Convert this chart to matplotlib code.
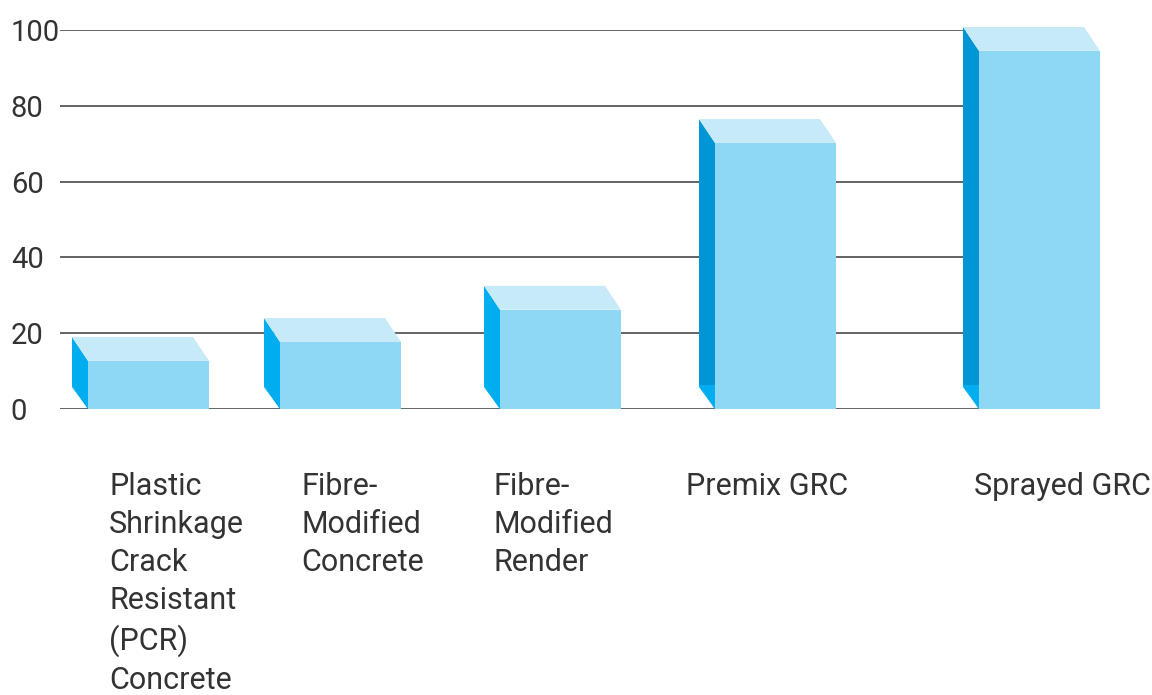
import matplotlib.pyplot as plt
from matplotlib.patches import Polygon, Rectangle
from matplotlib.transforms import blended_transform_factory

# data (values read at the back/top edge of each block)
categories = ["Plastic\nShrinkage\nCrack\nResistant\n(PCR)\nConcrete",
              "Fibre-\nModified\nConcrete",
              "Fibre-\nModified\nRender",
              "Premix GRC",
              "Sprayed GRC"]
values = [19, 24, 32.5, 76.5, 100.8]
yticks = [0, 20, 40, 60, 80, 100]

# layout (pixel-like x units), not data
bar_left = [88, 280, 500, 715, 979]
label_left = [109, 301, 493, 686, 974]
bar_w = 121
dx = 16           # depth offset in x
dy = 6.3          # depth offset in value units

front_col = '#8ed8f5'
top_col = '#c7eaf9'
side_light = '#00aeef'
side_dark = '#0096d6'
text_col = '#333333'

plt.rcParams['font.family'] = ['Roboto', 'DejaVu Sans']

fig = plt.figure(figsize=(11.52, 6.95), dpi=100)
W, H = 1152, 695
ax = fig.add_axes([60 / W, (H - 409) / H, (1082 - 60) / W, (409 - 30) / H])
ax.set_xlim(60, 1082)
ax.set_ylim(0, 100)

for s in ax.spines.values():
    s.set_visible(False)
ax.set_xticks([])
ax.set_yticks(yticks)
ax.set_yticklabels([str(t) for t in yticks], fontsize=21, color=text_col,
                   ha='left')
ax.tick_params(axis='y', length=0, pad=35.5)
ax.grid(axis='y', color='#3a3a3a', linewidth=1.1)
ax.set_axisbelow(True)

for x0, v in zip(bar_left, values):
    front_h = v - dy
    # side face
    side_c = side_dark if v > 50 else side_light
    ax.add_patch(Polygon([(x0 - dx, dy), (x0 - dx, v), (x0, front_h), (x0, 0)],
                         closed=True, facecolor=side_c, edgecolor='none',
                         clip_on=False, zorder=3))
    # lower triangle of side face stays bright
    ax.add_patch(Polygon([(x0 - dx, dy - 0.5), (x0 - dx, dy), (x0, dy), (x0, 0)],
                         closed=True, facecolor=side_light, edgecolor='none',
                         clip_on=False, zorder=3))
    # top face
    ax.add_patch(Polygon([(x0 - dx, v), (x0 - dx + bar_w, v),
                          (x0 + bar_w, front_h), (x0, front_h)],
                         closed=True, facecolor=top_col, edgecolor='none',
                         clip_on=False, zorder=3))
    # front face
    ax.add_patch(Rectangle((x0, 0), bar_w, front_h, facecolor=front_col,
                           edgecolor='none', clip_on=False, zorder=4))

trans = blended_transform_factory(ax.transData, fig.transFigure)
for xl, lab in zip(label_left, categories):
    ax.text(xl, (H - 472) / H, lab, transform=trans, ha='left', va='top',
            fontsize=22, color=text_col, linespacing=1.39, clip_on=False)

fig.savefig('out.png', dpi=100)
